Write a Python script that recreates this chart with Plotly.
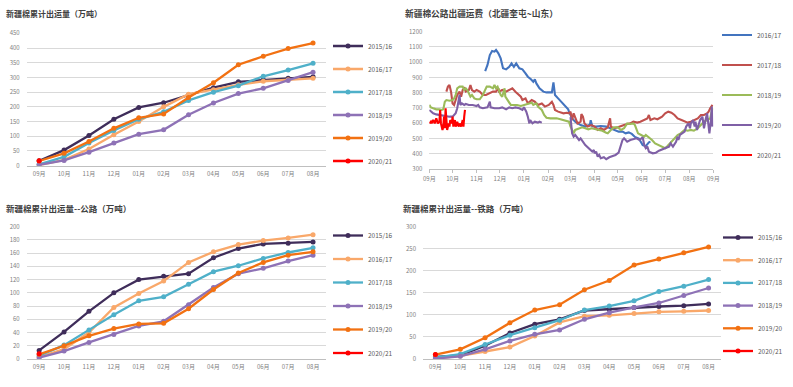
import plotly.graph_objects as go

# ---------------- data ----------------
months = ["09月", "10月", "11月", "12月", "01月", "02月", "03月", "04月", "05月", "06月", "07月", "08月"]
seasons = ["2015/16", "2016/17", "2017/18", "2018/19", "2019/20", "2020/21"]

# cumulative total shipments (10k t)
total_1516 = [17, 53, 103, 158, 198, 214, 240, 265, 285, 292, 297, 302]
total_1617 = [2, 20, 57, 105, 150, 200, 243, 258, 275, 287, 292, 297]
total_1718 = [5, 30, 77, 120, 158, 183, 222, 250, 272, 304, 325, 348]
total_1819 = [3, 18, 46, 77, 107, 122, 173, 213, 245, 263, 290, 318]
total_1920 = [16, 42, 82, 127, 163, 176, 232, 282, 343, 372, 398, 417]
total_2021 = [17]

# cumulative road shipments
road_1516 = [13, 41, 72, 100, 120, 125, 129, 153, 167, 174, 175, 177]
road_1617 = [3, 15, 40, 78, 99, 118, 146, 162, 173, 179, 183, 188]
road_1718 = [5, 21, 44, 67, 88, 94, 113, 132, 141, 152, 161, 168]
road_1819 = [2, 12, 25, 37, 50, 57, 82, 108, 129, 137, 148, 157]
road_1920 = [7, 20, 35, 46, 53, 54, 76, 105, 130, 146, 157, 162]
road_2021 = [8]

# cumulative rail shipments
rail_1516 = [5, 8, 30, 59, 79, 90, 110, 113, 117, 119, 121, 125]
rail_1617 = [1, 7, 17, 27, 52, 83, 97, 99, 103, 107, 108, 110]
rail_1718 = [3, 11, 33, 54, 71, 88, 111, 120, 132, 153, 165, 180]
rail_1819 = [1, 6, 22, 41, 56, 66, 90, 105, 117, 127, 144, 161]
rail_1920 = [10, 22, 48, 82, 111, 123, 157, 178, 213, 227, 241, 254]
rail_2021 = [10]

# road freight (yuan/t), Kuitun -> Shandong, by date (MM-DD within season)
fee_1617_dates = ["11-12", "11-15", "11-18", "11-21", "11-24", "11-26", "11-29", "12-02", "12-05", "12-09",
                  "12-13", "12-16", "12-19", "12-22", "12-26", "12-30", "01-03", "01-06", "01-10", "01-13",
                  "01-15", "01-17", "01-21", "01-26", "01-30", "02-06", "02-08", "02-09", "02-10", "02-14",
                  "02-18", "02-23", "02-27", "02-28", "03-03", "03-07", "03-14", "03-20", "03-26", "03-27",
                  "03-29", "04-03", "04-09", "04-16", "04-22", "04-28", "05-02", "05-07", "05-11", "05-15",
                  "05-19", "05-23", "05-28", "06-02", "06-06", "06-10", "06-12"]
fee_1617_vals = [942, 982, 1047, 1073, 1069, 1080, 1058, 1025, 960, 953,
                 970, 992, 970, 992, 960, 953, 927, 905, 888, 872,
                 888, 861, 829, 807, 802, 802, 868, 800, 785, 763,
                 741, 709, 691, 676, 632, 610, 588, 578, 590, 620,
                 580, 578, 582, 578, 567, 556, 545, 545, 534, 540,
                 530, 510, 500, 457, 450, 475, 478]

fee_1718_dates = ["09-23", "09-25", "09-27", "09-29", "10-01", "10-03", "10-05", "10-07", "10-10", "10-12",
                  "10-14", "10-16", "10-18", "10-22", "10-24", "10-26", "10-29", "11-01", "11-05", "11-09",
                  "11-13", "11-18", "11-22", "11-26", "11-29", "11-30", "12-04", "12-09", "12-13", "12-17",
                  "12-21", "12-26", "12-28", "12-30", "01-03", "01-06", "01-11", "01-15", "01-19", "01-24",
                  "01-28", "02-02", "02-06", "02-08", "02-10", "02-14", "02-21", "02-25", "02-28", "03-01",
                  "03-03", "03-05", "03-07", "03-10", "03-14", "03-15", "03-17", "03-19", "03-23", "03-28",
                  "04-01", "04-05", "04-09", "04-13", "04-18", "04-21", "04-22", "04-26", "05-01", "05-05",
                  "05-09", "05-13", "05-17", "05-21", "05-26", "05-30", "06-04", "06-08", "06-10", "06-12",
                  "06-17", "06-21", "06-27", "07-01", "07-05", "07-09", "07-13", "07-17", "07-22", "07-26",
                  "07-30", "08-03", "08-07", "08-12", "08-16", "08-20", "08-24", "08-26", "08-28", "08-31"]
fee_1718_vals = [807, 840, 851, 807, 730, 720, 752, 785, 807, 774,
                 818, 829, 807, 818, 851, 818, 807, 818, 807, 785,
                 785, 796, 807, 807, 829, 807, 818, 807, 818, 829,
                 807, 785, 774, 752, 763, 730, 752, 741, 720, 730,
                 709, 720, 741, 720, 687, 676, 665, 669, 665, 676,
                 621, 665, 643, 599, 610, 660, 643, 599, 578, 588,
                 578, 556, 567, 556, 573, 632, 578, 567, 573, 578,
                 588, 595, 599, 610, 604, 610, 621, 632, 654, 621,
                 632, 626, 643, 665, 676, 669, 654, 632, 621, 610,
                 604, 610, 621, 632, 654, 654, 665, 676, 698, 720]

fee_1819_dates = ["09-01", "09-03", "09-06", "09-10", "09-14", "09-17", "09-19", "09-21", "09-23", "09-27",
                  "10-01", "10-03", "10-05", "10-07", "10-10", "10-14", "10-16", "10-18", "10-20", "10-22",
                  "10-24", "10-26", "10-29", "11-01", "11-05", "11-09", "11-12", "11-14", "11-18", "11-22",
                  "11-24", "11-26", "11-28", "11-30", "12-02", "12-04", "12-07", "12-08", "12-11", "12-15",
                  "12-19", "12-23", "12-28", "01-02", "01-06", "01-11", "01-13", "01-17", "01-19", "01-24",
                  "01-27", "01-30", "02-04", "02-08", "02-12", "02-17", "02-21", "02-25", "02-28", "03-01",
                  "03-03", "03-05", "03-07", "03-12", "03-16", "03-20", "03-24", "03-28", "04-02", "04-07",
                  "04-11", "04-16", "04-18", "04-22", "04-26", "05-01", "05-05", "05-09", "05-13", "05-17",
                  "05-21", "05-23", "05-25", "05-27", "05-31", "06-04", "06-06", "06-10", "06-14", "06-18",
                  "06-22", "06-27", "07-01", "07-04", "07-09", "07-13", "07-17", "07-21", "07-26", "07-30",
                  "08-03", "08-07", "08-12", "08-16", "08-20", "08-24", "08-28", "08-31"]
fee_1819_vals = [720, 704, 698, 691, 691, 687, 691, 741, 752, 748,
                 752, 763, 785, 829, 840, 840, 818, 829, 818, 796,
                 774, 785, 763, 757, 757, 785, 818, 840, 840, 829,
                 851, 829, 840, 807, 785, 774, 829, 774, 752, 720,
                 720, 720, 713, 720, 730, 735, 720, 730, 709, 687,
                 654, 636, 632, 632, 632, 626, 621, 617, 610, 578,
                 556, 534, 556, 567, 573, 567, 560, 567, 560, 556,
                 551, 538, 534, 556, 573, 573, 556, 567, 599, 595,
                 599, 588, 556, 534, 523, 512, 523, 508, 490, 468,
                 457, 447, 436, 451, 479, 501, 523, 534, 556, 551,
                 556, 551, 567, 588, 610, 621, 632, 698]

fee_1920_dates = ["09-01", "09-03", "09-06", "09-10", "09-14", "09-19", "09-23", "09-27", "10-01", "10-03",
                  "10-05", "10-07", "10-09", "10-10", "10-11", "10-13", "10-16", "10-18", "10-22", "10-27",
                  "11-01", "11-03", "11-05", "11-09", "11-15", "11-18", "11-19", "11-24", "11-30", "12-04",
                  "12-09", "12-13", "12-17", "12-21", "12-26", "12-30", "01-01", "01-04", "01-06", "01-08",
                  "01-09", "01-12", "01-15", "01-19", "01-21", "01-24", "02-15", "03-01", "03-02", "03-03",
                  "03-05", "03-07", "03-12", "03-14", "03-20", "03-24", "03-29", "03-31", "04-01", "04-03",
                  "04-05", "04-07", "04-09", "04-13", "04-16", "04-20", "04-24", "04-28", "05-02", "05-04",
                  "05-07", "05-09", "05-13", "05-17", "05-21", "05-25", "05-29", "06-02", "06-04", "06-06",
                  "06-08", "06-10", "06-15", "06-19", "06-23", "06-27", "07-02", "07-06", "07-08", "07-11",
                  "07-15", "07-17", "07-18", "07-20", "07-26", "07-28", "07-31", "08-02", "08-03", "08-06",
                  "08-08", "08-09", "08-11", "08-13", "08-15", "08-18", "08-20", "08-22", "08-24", "08-27",
                  "08-29", "08-30", "08-31"]
fee_1920_vals = [687, 676, 665, 658, 654, 652, 650, 643, 643, 654,
                 665, 698, 752, 785, 720, 730, 720, 726, 720, 720,
                 713, 720, 704, 698, 704, 741, 704, 698, 698, 704,
                 691, 704, 698, 704, 698, 687, 704, 676, 643, 599,
                 621, 599, 610, 604, 610, 604, None, 640, 556, 534,
                 512, 523, 490, 501, 457, 436, 414, 425, 403, 414,
                 381, 392, 370, 377, 364, 377, 385, 392, 407, 447,
                 490, 501, 479, 490, 495, 501, 490, 508, 457, 436,
                 447, 414, 403, 407, 420, 429, 436, 447, 468, 447,
                 479, 512, 490, 523, 545, 578, 599, 567, 599, 621,
                 578, 610, 556, 599, 621, 643, 567, 621, 665, 534,
                 621, 709, 578]

fee_2021_dates = ["09-01", "09-03", "09-04", "09-06", "09-08", "09-10", "09-12", "09-14", "09-15", "09-16",
                  "09-18", "09-19", "09-20", "09-21", "09-22", "09-23", "09-24", "09-26", "09-27", "09-28",
                  "09-30", "10-01", "10-02", "10-04", "10-05", "10-07", "10-09", "10-10", "10-12", "10-14",
                  "10-15", "10-16", "10-17"]
fee_2021_vals = [599, 610, 599, 621, 599, 632, 599, 610, 687, 599,
                 556, 578, 643, 567, 698, 599, 556, 599, 578, 621,
                 599, 643, 578, 621, 578, 610, 578, 599, 578, 621,
                 578, 643, 687]

fee_seasons = ["2016/17", "2017/18", "2018/19", "2019/20", "2020/21"]

# ---------------- styles ----------------
cum_colors = ["#3F2D5A", "#F9A86A", "#4FB0C9", "#8E72B6", "#F27112", "#FF0000"]
fee_colors = ["#4374BF", "#C0504D", "#9BBB59", "#7F60A6", "#FF0000"]
FONT = "Noto Sans CJK SC"
TICK = dict(family=FONT, size=6, color="#7F7F7F")
LEGF = dict(family=FONT, size=6.5, color="#595959")


def to_date(md):
    m = int(md[:2])
    y = 2019 if m >= 9 else 2020
    return f"{y}-{md}"


fig = go.Figure()

panels = [
    ("x", "y", "legend", [total_1516, total_1617, total_1718, total_1819, total_1920, total_2021]),
    ("x3", "y3", "legend3", [road_1516, road_1617, road_1718, road_1819, road_1920, road_2021]),
    ("x4", "y4", "legend4", [rail_1516, rail_1617, rail_1718, rail_1819, rail_1920, rail_2021]),
]
for xa, ya, lg, series in panels:
    for i, (name, vals) in enumerate(zip(seasons, series)):
        fig.add_trace(go.Scatter(
            x=months[:len(vals)], y=vals, name=name, mode="lines+markers",
            line=dict(color=cum_colors[i], width=2.3),
            marker=dict(color=cum_colors[i], size=5),
            xaxis=xa, yaxis=ya, legend=lg, legendgroup=lg + name,
        ))

fee_series = [(fee_1617_dates, fee_1617_vals), (fee_1718_dates, fee_1718_vals),
              (fee_1819_dates, fee_1819_vals), (fee_1920_dates, fee_1920_vals),
              (fee_2021_dates, fee_2021_vals)]
for i, (name, (ds, vs)) in enumerate(zip(fee_seasons, fee_series)):
    assert len(ds) == len(vs), name
    fig.add_trace(go.Scatter(
        x=[to_date(d) for d in ds], y=vs, name=name, mode="lines",
        line=dict(color=fee_colors[i], width=2.1), connectgaps=False,
        xaxis="x2", yaxis="y2", legend="legend2", legendgroup="fee" + name,
    ))

W, H = 793, 387


def px_x(v):
    return v / W


def px_y(v):
    return 1 - v / H


grid = "#D9D9D9"
cat_x = dict(type="category", range=[-0.5, 11.5], showgrid=False, showline=True,
             linecolor="#BFBFBF", linewidth=1, ticks="", tickfont=TICK, fixedrange=True,
             ticklabelstandoff=2, automargin=False)
y_common = dict(gridcolor=grid, zeroline=False, tickfont=TICK, ticklabelstandoff=6, automargin=False)
fig.update_layout(
    width=W, height=H, margin=dict(l=0, r=0, t=0, b=0, autoexpand=False),
    paper_bgcolor="white", plot_bgcolor="white",
    font=dict(family=FONT),
    xaxis=dict(cat_x, domain=[px_x(26.7), px_x(325.5)], anchor="y"),
    yaxis=dict(y_common, domain=[px_y(165.7), px_y(33.3)], range=[0, 450], dtick=50, anchor="x"),
    xaxis3=dict(cat_x, domain=[px_x(26.7), px_x(325.5)], anchor="y3"),
    yaxis3=dict(y_common, domain=[px_y(359), px_y(226.7)], range=[0, 200], dtick=20, anchor="x3"),
    xaxis4=dict(cat_x, domain=[px_x(423), px_x(721)], anchor="y4"),
    yaxis4=dict(y_common, domain=[px_y(359), px_y(226.7)], range=[0, 300], dtick=50, anchor="x4"),
    xaxis2=dict(type="date", domain=[px_x(429.3), px_x(713.3)], anchor="y2",
                range=["2019-09-01", "2020-09-01"], tick0="2019-09-01", dtick="M1",
                tickformat="%m月", showgrid=False, showline=True, linecolor="#BFBFBF",
                ticks="outside", ticklen=3, tickcolor="#BFBFBF", tickfont=TICK,
                ticklabelstandoff=1, automargin=False),
    yaxis2=dict(y_common, domain=[px_y(169), px_y(31.7)], range=[300, 1200], dtick=100, anchor="x2"),
    legend=dict(x=px_x(328), y=px_y(31.5), xanchor="left", yanchor="top", font=LEGF,
                tracegroupgap=4, bgcolor="rgba(0,0,0,0)"),
    legend3=dict(x=px_x(328), y=px_y(221), xanchor="left", yanchor="top", font=LEGF,
                 tracegroupgap=4.5, bgcolor="rgba(0,0,0,0)"),
    legend4=dict(x=px_x(718), y=px_y(223), xanchor="left", yanchor="top", font=LEGF,
                 tracegroupgap=3.7, bgcolor="rgba(0,0,0,0)"),
    legend2=dict(x=px_x(717), y=px_y(20.5), xanchor="left", yanchor="top", font=LEGF,
                 tracegroupgap=11, bgcolor="rgba(0,0,0,0)"),
    showlegend=True,
)

titles = [
    ("新疆棉累计出运量（万吨）", 4, 13.7, 8),
    ("新疆棉公路出疆运费（北疆奎屯~山东）", 403, 13.7, 8.7),
    ("新疆棉累计出运量--公路（万吨）", 4, 208, 8.5),
    ("新疆棉累计出运量--铁路（万吨）", 401, 208.5, 8.5),
]
for txt, x0, y0, fs in titles:
    fig.add_annotation(text="<b>" + txt + "</b>", x=px_x(x0), y=px_y(y0), xref="paper", yref="paper",
                       xanchor="left", yanchor="middle", showarrow=False,
                       font=dict(family=FONT, size=fs, color="#404040"))

fig.write_html("out.html", config={"displayModeBar": False},
               post_script="document.body.style.margin='0';document.body.style.overflow='hidden';")
